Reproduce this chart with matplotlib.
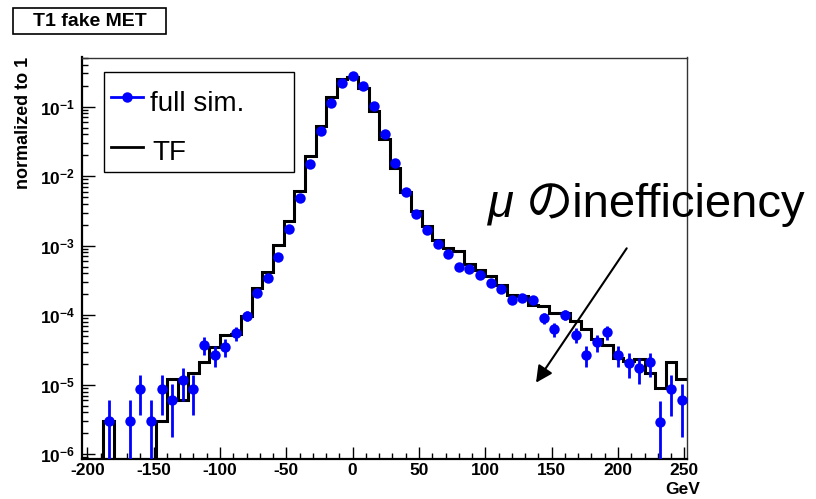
import numpy as np
import matplotlib.pyplot as plt
from matplotlib.patches import Rectangle
from matplotlib.lines import Line2D

plt.rcParams['font.family'] = ['Liberation Sans', 'Noto Sans CJK JP', 'DejaVu Sans']
plt.rcParams['mathtext.fontset'] = 'custom'
plt.rcParams['mathtext.rm'] = 'Liberation Sans:bold'
plt.rcParams['mathtext.bf'] = 'Liberation Sans:bold'
plt.rcParams['axes.unicode_minus'] = False

# 57 bins of 8 GeV, -204 .. 252
edges = np.arange(-204, 253, 8)
centers = edges[:-1] + 4

# full simulation (points), nan = empty bin
full_sim = [np.nan, np.nan, 3.0e-6, np.nan, 3.0e-6, 8.8e-6, 3.0e-6, 8.8e-6, 6.1e-6, 1.18e-5,
            8.8e-6, 3.77e-5, 2.7e-5, 3.49e-5, 5.55e-5, 9.85e-5, 2.08e-4, 3.42e-4, 6.86e-4, 1.75e-3,
            4.83e-3, 1.49e-2, 4.48e-2, 0.114, 0.221, 0.279, 0.200, 0.102, 0.0401, 0.0154,
            6.0e-3, 2.85e-3, 1.69e-3, 1.05e-3, 7.66e-4, 5.02e-4, 4.66e-4, 3.82e-4, 2.9e-4, 2.38e-4,
            1.67e-4, 1.77e-4, 1.67e-4, 9.12e-5, 6.34e-5, 1.02e-4, 5.25e-5, 2.7e-5, 4.06e-5, 5.66e-5,
            2.7e-5, 2.06e-5, 1.74e-5, 2.1e-5, 2.88e-6, 8.7e-6, 5.97e-6]
full_err = [0, 0, 3.0e-6, 0, 3.0e-6, 5.1e-6, 3.0e-6, 5.1e-6, 4.3e-6, 5.9e-6,
            5.1e-6, 1.06e-5, 9.0e-6, 1.02e-5, 1.3e-5, 1.7e-5, 2.5e-5, 3.2e-5, 4.5e-5, 7.2e-5,
            1.2e-4, 2.1e-4, 3.7e-4, 5.8e-4, 8.1e-4, 9.1e-4, 7.7e-4, 5.5e-4, 3.5e-4, 2.1e-4,
            1.3e-4, 9.2e-5, 7.1e-5, 5.6e-5, 4.8e-5, 3.9e-5, 3.7e-5, 3.4e-5, 2.9e-5, 2.7e-5,
            2.2e-5, 2.3e-5, 2.2e-5, 1.65e-5, 1.4e-5, 1.75e-5, 1.25e-5, 9.0e-6, 1.1e-5, 1.3e-5,
            9.0e-6, 7.9e-6, 7.2e-6, 7.9e-6, 2.9e-6, 5.1e-6, 4.2e-6]

# transfer function (histogram)
tf = [0, 0, 3.0e-6, 0, 0, 0, 0, 3.0e-6, 1.21e-5, 5.97e-6,
      1.48e-5, 2.1e-5, 3.49e-5, 5.13e-5, 5.37e-5, 9.85e-5, 2.5e-4, 4.18e-4, 1.04e-3, 2.3e-3,
      6.15e-3, 1.98e-2, 5.33e-2, 0.136, 0.25, 0.27, 0.1875, 0.0868, 0.0344, 0.0133,
      6.0e-3, 3.17e-3, 1.89e-3, 1.19e-3, 9.25e-4, 8.26e-4, 5.49e-4, 4.5e-4, 3.61e-4, 2.74e-4,
      1.97e-4, 1.86e-4, 1.42e-4, 1.37e-4, 1.07e-4, 1.07e-4, 8.4e-5, 6.34e-5, 4.55e-5, 3.77e-5,
      2.43e-5, 2.17e-5, 2.37e-5, 1.48e-5, 9.0e-6, 2.12e-5, 1.21e-5]

xticks = [-200, -150, -100, -50, 0, 50, 100, 150, 200, 250]
yticks = [1e-6, 1e-5, 1e-4, 1e-3, 1e-2, 1e-1]

W, H = 816, 499
fig = plt.figure(figsize=(W / 100, H / 100), dpi=100)

def fx(px):
    return px / W

def fy(py):
    return 1 - py / H

ax = fig.add_axes([fx(82), fy(459), (687 - 82) / W, (459 - 57.5) / H])
ax.set_yscale('log')

ax.stairs(tf, edges, color='black', lw=2.2, baseline=None, zorder=2)
ax.errorbar(centers, full_sim, yerr=full_err, fmt='o', color='blue', ms=7.5, mew=0,
            elinewidth=2, capsize=0, zorder=3)

ax.set_xlim(-204, 252)
ax.set_ylim(8.56e-7, 0.509)

ax.set_xticks(xticks, [str(t) for t in xticks], fontsize=12.5, fontweight='bold')
ax.set_xticks(np.arange(-200, 251, 10), minor=True)
ax.set_yticks(yticks, [r'$\mathbf{10^{%d}}$' % round(np.log10(t)) for t in yticks], fontsize=12.5)
minor_y = [m * 10.0 ** e for e in range(-7, 0) for m in range(2, 10)]
ax.set_yticks(minor_y, minor=True)
ax.set_yticklabels([], minor=True)
ax.set_ylim(8.56e-7, 0.509)

ax.tick_params(which='both', direction='in', top=False, right=False)
ax.tick_params(which='major', length=9, width=1)
ax.tick_params(which='minor', length=4.5, width=1)
ax.tick_params(axis='x', pad=3)
ax.tick_params(axis='y', pad=5)

for s in ['left', 'bottom']:
    ax.spines[s].set_linewidth(1.6)
for s in ['top', 'right']:
    ax.spines[s].set_linewidth(1.0)
    ax.spines[s].set_color('#333333')

# title box
fig.patches.append(Rectangle((fx(13), fy(34)), (166 - 13) / W, (34 - 8) / H,
                             transform=fig.transFigure, fill=False, ec='black', lw=1.2))
fig.text(fx(89.5), fy(21), 'T1 fake MET', ha='center', va='center', fontsize=14, fontweight='bold')

# axis titles
fig.text(fx(24), fy(57), 'normalized to 1', rotation=90, ha='center', va='top',
         fontsize=13, fontweight='bold')
fig.text(fx(700), fy(489), 'GeV', ha='right', va='center', fontsize=12.5, fontweight='bold')

# legend
fig.patches.append(Rectangle((fx(104), fy(172)), (294 - 104) / W, (172 - 72) / H,
                             transform=fig.transFigure, fc='white', ec='black', lw=1.0, zorder=5))
fig.lines.append(Line2D([fx(110.7), fx(143.3)], [fy(97.3), fy(97.3)], transform=fig.transFigure,
                        color='blue', lw=2, zorder=6))
fig.lines.append(Line2D([fx(127)], [fy(97.3)], transform=fig.transFigure, marker='o', ms=7.5,
                        mew=0, color='blue', zorder=6))
fig.lines.append(Line2D([fx(110.7), fx(143.3)], [fy(147.3), fy(147.3)], transform=fig.transFigure,
                        color='black', lw=2, zorder=6))
fig.text(fx(150), fy(110.7), 'full sim.', ha='left', va='baseline', fontsize=20, zorder=7)
fig.text(fx(152), fy(160), 'TF', ha='left', va='baseline', fontsize=20, zorder=7)

# annotation
fig.text(fx(488), fy(216.7), 'μ', ha='left', va='baseline', fontsize=34, style='italic')
fig.text(fx(526), fy(216.7), 'のinefficiency', ha='left', va='baseline', fontsize=34)
ax.annotate('', xy=(536, H - 382.7), xytext=(626.7, H - 248.3), xycoords='figure pixels',
            textcoords='figure pixels',
            arrowprops=dict(arrowstyle='-|>', lw=1.5, color='black', mutation_scale=25,
                            shrinkA=0, shrinkB=0))

fig.savefig('out.png', dpi=100)
